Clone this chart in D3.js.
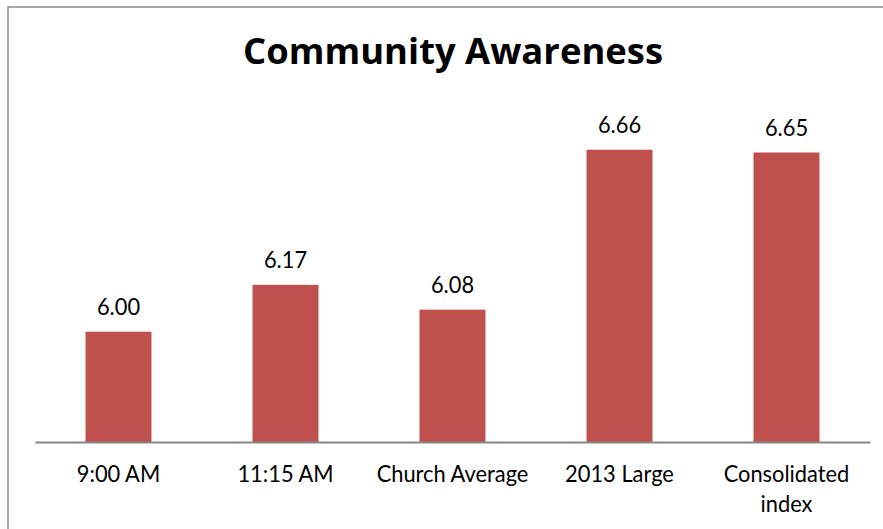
<!DOCTYPE html>
<html><head><meta charset="utf-8">
<script src="https://cdn.jsdelivr.net/npm/d3@7"></script>
<style>html,body{margin:0;padding:0;background:#fff;}svg{display:block;}</style>
</head><body>
<svg id="chart" width="883" height="529"></svg>
<script>
const categories = ["9:00 AM", "11:15 AM", "Church Average", "2013 Large", "Consolidated index"];
const values = [6.00, 6.17, 6.08, 6.66, 6.65];
const valueLabels = ["6.00", "6.17", "6.08", "6.66", "6.65"];
const title = "Community Awareness";

const svg = d3.select("#chart");
const FONT = "Lato, 'Open Sans', sans-serif";
const SQUEEZE = 0.95;

svg.append("rect").attr("x", 8).attr("y", 7).attr("width", 900).attr("height", 560)
  .attr("fill", "#fff").attr("stroke", "#8c8c8c").attr("stroke-width", 1.5);

const x = d3.scaleBand().domain(categories).range([35, 870]).paddingInner(0.605).paddingOuter(0.3025);
const y = d3.scaleLinear().domain([5.6, 7.0]).range([442, 56]);

svg.selectAll("rect.bar").data(values).join("rect").attr("class", "bar")
  .attr("x", (d, i) => x(categories[i]))
  .attr("width", x.bandwidth())
  .attr("y", d => y(d))
  .attr("height", d => y(5.6) - y(d))
  .attr("fill", "#C0504D");

const xAxis = d3.axisBottom(x).tickSize(0).tickFormat("");
const ax = svg.append("g").attr("transform", "translate(0,442)").call(xAxis);
ax.select(".domain").attr("stroke", "#868686").attr("stroke-width", 2);

function squeeze(sel, k) {
  sel.each(function () {
    const len = this.getComputedTextLength();
    d3.select(this).attr("textLength", len * k).attr("lengthAdjust", "spacingAndGlyphs");
  });
}

// category labels
const catG = svg.append("g");
categories.forEach((c, i) => {
  const cx = x(c) + x.bandwidth() / 2;
  const lines = c === "Consolidated index" ? ["Consolidated", "index"] : [c];
  lines.forEach((ln, j) => {
    catG.append("text").attr("x", cx).attr("y", 482 + j * 30)
      .attr("text-anchor", "middle").attr("font-family", FONT).attr("font-size", 23)
      .attr("fill", "#000").text(ln);
  });
});
catG.selectAll("text").call(squeeze, SQUEEZE);

// value labels
svg.append("g").selectAll("text").data(values).join("text")
  .attr("x", (d, i) => x(categories[i]) + x.bandwidth() / 2)
  .attr("y", d => y(d) - 17)
  .attr("text-anchor", "middle").attr("font-family", FONT).attr("font-size", 23)
  .attr("fill", "#000")
  .text((d, i) => valueLabels[i])
  .call(squeeze, SQUEEZE);

svg.append("text").attr("x", 453).attr("y", 64).attr("text-anchor", "middle")
  .attr("font-family", "'Open Sans', Lato, sans-serif").attr("font-weight", "bold").attr("font-size", 36)
  .attr("fill", "#000").attr("textLength", 420).attr("lengthAdjust", "spacingAndGlyphs")
  .text(title);
</script>
</body></html>
